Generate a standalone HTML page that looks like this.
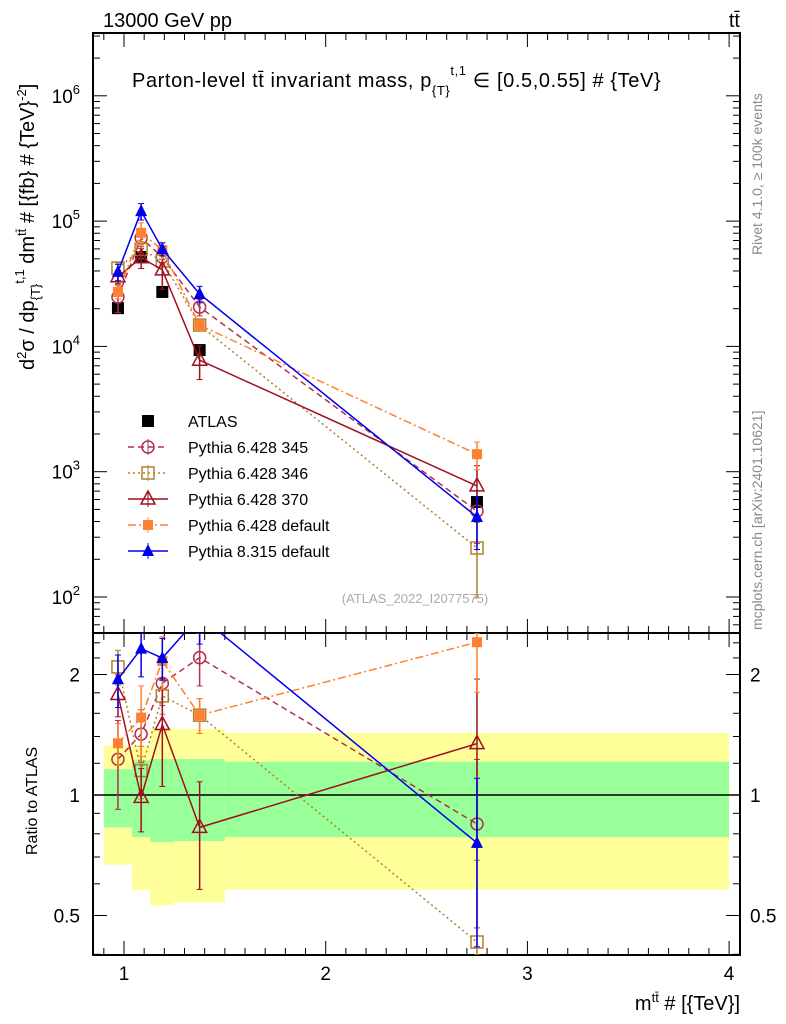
<!DOCTYPE html>
<html><head><meta charset="utf-8"><style>
html,body{margin:0;padding:0;background:#fff;width:786px;height:1024px;overflow:hidden;}
svg{display:block;font-family:"Liberation Sans",sans-serif;}
</style></head><body>
<svg id="chart" width="786" height="1024" viewBox="0 0 786 1024" xmlns="http://www.w3.org/2000/svg">
<g id="bands"></g>
<g id="axes"></g>
<g id="series"></g>
<g id="labels">
<text x="103" y="27" font-size="20">13000 GeV pp</text>
<text x="740" y="27" font-size="20" text-anchor="end">tt̄</text>
<text x="132" y="87" font-size="20" letter-spacing="0.6">Parton-level tt̄ invariant mass, p<tspan font-size="13" dy="8">{T}</tspan><tspan font-size="13" dy="-20">t,1</tspan><tspan dy="12"> ∈ [0.5,0.55] # {TeV}</tspan></text>
<text transform="translate(34,370) rotate(-90)" font-size="20">d<tspan font-size="13" dy="-8">2</tspan><tspan dy="8">σ / dp</tspan><tspan font-size="13" dy="6">{T}</tspan><tspan font-size="13" dy="-16">t,1</tspan><tspan dy="10"> dm</tspan><tspan font-size="13" dy="-8">tt̄</tspan><tspan dy="8"> # [{fb} # {TeV}</tspan><tspan font-size="13" dy="-8">-2</tspan><tspan dy="8">]</tspan></text>
<text transform="translate(37,855) rotate(-90)" font-size="16">Ratio to ATLAS</text>
<text x="740" y="1010" font-size="20" text-anchor="end">m<tspan font-size="13" dy="-8">tt̄</tspan><tspan dy="8"> # [{TeV}]</tspan></text>
<text transform="translate(762,255) rotate(-90)" font-size="14" fill="#888">Rivet 4.1.0, ≥ 100k events</text>
<text transform="translate(762,630) rotate(-90)" font-size="14" fill="#888">mcplots.cern.ch [arXiv:2401.10621]</text>
<text x="415" y="603" font-size="13" fill="#aaa" text-anchor="middle">(ATLAS_2022_I2077575)</text>
</g>
<g id="legend"></g>
</svg>
<script>
const binEdges=[0.9,1.04,1.13,1.25,1.5,4.0];
const xCenters=[0.97,1.085,1.19,1.375,2.75];
const atlas=[20200,51700,27200,9350,573];
const atlasErr=[0.05,0.05,0.05,0.06,0.08];
const p345=[24800,73400,51700,20600,485];
const p346=[42200,59500,48100,14800,246];
const p370=[36000,51000,40800,7760,770];
const p6def=[27200,80700,58800,14800,1380];
const p8def=[39300,120000,59800,26200,435];
const e345=[0.25,0.15,0.12,0.15,0.45];
const e346=[0.1,0.15,0.1,0.1,0.6];
const e370=[0.12,0.18,0.3,0.3,0.45];
const e6def=[0.12,0.2,0.15,0.1,0.25];
const e8def=[0.15,0.15,0.12,0.15,0.45];
const yellowHi=[1.33,1.33,1.47,1.46,1.43];
const yellowLo=[0.67,0.58,0.53,0.54,0.58];
const greenHi=[1.16,1.22,1.23,1.23,1.21];
const greenLo=[0.83,0.785,0.763,0.767,0.785];
const mainTicks=[2,3,4,5,6];
const ratioTicks=[0.5,1,2];
const xTicks=[1,2,3,4];

const NS="http://www.w3.org/2000/svg";
const L=93,R=740,T=33,MB=633,RB=955;
const X=v=>124+(v-1)*201.7;
const Y=v=>597-125.3*(Math.log10(v)-2);
const YR=r=>795-120.5*Math.log2(r);
const clamp=(y,a,b)=>Math.min(b,Math.max(a,y));
function mk(p,tag,a){const e=document.createElementNS(NS,tag);for(const k in a)e.setAttribute(k,a[k]);p.appendChild(e);return e;}
const axes=document.getElementById('axes'),bands=document.getElementById('bands'),ser=document.getElementById('series'),leg=document.getElementById('legend');

for(let i=0;i<xCenters.length;i++){
 const x0=X(binEdges[i]),x1=X(binEdges[i+1]);
 let r=mk(bands,'rect',{x:x0,y:YR(yellowHi[i]),width:x1-x0,height:YR(yellowLo[i])-YR(yellowHi[i]),fill:'#ffff99'});
 
 r=mk(bands,'rect',{x:x0,y:YR(greenHi[i]),width:x1-x0,height:YR(greenLo[i])-YR(greenHi[i]),fill:'#99ff99'});
 
}
let f=mk(axes,'rect',{x:L,y:T,width:R-L,height:MB-T,fill:'none',stroke:'#000','stroke-width':2});

f=mk(axes,'rect',{x:L,y:MB,width:R-L,height:RB-MB,fill:'none',stroke:'#000','stroke-width':2});

mk(axes,'line',{x1:L,x2:R,y1:YR(1),y2:YR(1),stroke:'#000','stroke-width':1.5});
for(let d=1;d<=6;d++){for(let m=1;m<10;m++){const v=m*Math.pow(10,d);const y=Y(v);if(y<T||y>MB)continue;const len=m==1?14:7;
 mk(axes,'line',{x1:L,x2:L+len,y1:y,y2:y,stroke:'#000'});mk(axes,'line',{x1:R-len,x2:R,y1:y,y2:y,stroke:'#000'});}}
mainTicks.forEach(d=>{const t=mk(axes,'text',{x:80,y:Y(Math.pow(10,d))+7,'font-size':19,'text-anchor':'end'});
 
 t.innerHTML='10<tspan font-size="13" dy="-9">'+d+'</tspan>';});
[0.4,0.5,0.6,0.7,0.8,0.9,1,1.2,1.4,1.6,1.8,2,2.2,2.4].forEach(v=>{const y=YR(v);const len=[0.5,1,2].includes(v)?14:7;
 mk(axes,'line',{x1:L,x2:L+len,y1:y,y2:y,stroke:'#000'});mk(axes,'line',{x1:R-len,x2:R,y1:y,y2:y,stroke:'#000'});});
ratioTicks.forEach(v=>{let t=mk(axes,'text',{x:80,y:YR(v)+7,'font-size':19,'text-anchor':'end'});t.textContent=v;
 
 t=mk(axes,'text',{x:750,y:YR(v)+7,'font-size':19});t.textContent=v;
 });
for(let v=0.9;v<=4.05;v+=0.1){const x=X(v);if(x<L||x>R)continue;const maj=Math.abs(v-Math.round(v))<0.01;const len=maj?14:7;
 [T,MB].forEach(y0=>mk(axes,'line',{x1:x,x2:x,y1:y0,y2:y0+len,stroke:'#000'}));
 [MB,RB].forEach(y0=>mk(axes,'line',{x1:x,x2:x,y1:y0,y2:y0-len,stroke:'#000'}));}
xTicks.forEach(v=>{const t=mk(axes,'text',{x:X(v),y:980,'font-size':19,'text-anchor':'middle'});t.textContent=v;
 });

const defs=mk(document.getElementById('chart'),'defs',{});
let cp=mk(defs,'clipPath',{id:'cm'});mk(cp,'rect',{x:L,y:T,width:R-L,height:MB-T});
cp=mk(defs,'clipPath',{id:'cr'});mk(cp,'rect',{x:L,y:MB,width:R-L,height:RB-MB});

function marker(g,type,x,y,c){
 const s=6;
 if(type=='sqf')return mk(g,'rect',{x:x-s,y:y-s,width:2*s,height:2*s,fill:c});
 if(type=='sqo')return mk(g,'rect',{x:x-s,y:y-s,width:2*s,height:2*s,fill:'none',stroke:c,'stroke-width':1.5});
 if(type=='sqs')return mk(g,'rect',{x:x-5,y:y-5,width:10,height:10,fill:c});
 if(type=='circ')return mk(g,'circle',{cx:x,cy:y,r:6,fill:'none',stroke:c,'stroke-width':1.5});
 if(type=='trio')return mk(g,'path',{d:`M${x},${y-8}L${x+7},${y+5}L${x-7},${y+5}Z`,fill:'none',stroke:c,'stroke-width':1.5});
 if(type=='trif')return mk(g,'path',{d:`M${x},${y-7}L${x+6},${y+5}L${x-6},${y+5}Z`,fill:c});
}
const seriesDefs=[
 {name:'Pythia 6.428 345',vals:p345,err:e345,c:'#b03050',m:'circ',dash:'6,4'},
 {name:'Pythia 6.428 346',vals:p346,err:e346,c:'#b08030',m:'sqo',dash:'2,3'},
 {name:'Pythia 6.428 370',vals:p370,err:e370,c:'#a01020',m:'trio',dash:''},
 {name:'Pythia 6.428 default',vals:p6def,err:e6def,c:'#ff8030',m:'sqs',dash:'8,3,2,3'},
 {name:'Pythia 8.315 default',vals:p8def,err:e8def,c:'#0000ee',m:'trif',dash:''}
];
function drawSeries(s,ratio){
 const g=mk(ser,'g',{'clip-path':ratio?'url(#cr)':'url(#cm)'});
 
 
 const top=ratio?MB:T,bot=ratio?RB:MB;
 const yf=ratio?(v,i)=>YR(v/atlas[i]):(v)=>Y(v);
 const pts=s.vals.map((v,i)=>X(xCenters[i])+','+yf(v,i)).join(' ');
 const attrs={points:pts,fill:'none',stroke:s.c,'stroke-width':1.5};if(s.dash)attrs['stroke-dasharray']=s.dash;
 mk(g,'polyline',attrs);
 s.vals.forEach((v,i)=>{const x=X(xCenters[i]);
  const hi=clamp(yf(v*(1+s.err[i]),i),top,bot),lo=clamp(yf(Math.max(v*(1-s.err[i]),1e-3),i),top,bot);
  mk(g,'line',{x1:x,x2:x,y1:hi,y2:lo,stroke:s.c,'stroke-width':1.5});
  mk(g,'line',{x1:x-3,x2:x+3,y1:hi,y2:hi,stroke:s.c});mk(g,'line',{x1:x-3,x2:x+3,y1:lo,y2:lo,stroke:s.c});
  const my=yf(v,i);
  if(my>top-8&&my<bot+8){const mm=marker(g,s.m,x,my,s.c);}});
}
const ga=mk(ser,'g',{'clip-path':'url(#cm)'});

atlas.forEach((v,i)=>{const x=X(xCenters[i]);
 mk(ga,'line',{x1:x,x2:x,y1:Y(v*(1+atlasErr[i])),y2:Y(v*(1-atlasErr[i])),stroke:'#000'});
 const m=marker(ga,'sqf',x,Y(v),'#000');});
seriesDefs.forEach(s=>{drawSeries(s,false);drawSeries(s,true);});

const items=[{name:'ATLAS',c:'#000',m:'sqf',dash:null}].concat(seriesDefs);
items.forEach((s,i)=>{const y=421+i*26;const g=mk(leg,'g',{});
 
 if(s.dash!==null){const a={x1:128,x2:168,y1:y,y2:y,stroke:s.c,'stroke-width':1.5};if(s.dash)a['stroke-dasharray']=s.dash;mk(g,'line',a);
  mk(g,'line',{x1:148,x2:148,y1:y-8,y2:y+8,stroke:s.c});}
 marker(g,s.m,148,y,s.c);
 const t=mk(g,'text',{x:188,y:y+6,'font-size':16});t.textContent=s.name;});
</script>
</body></html>
